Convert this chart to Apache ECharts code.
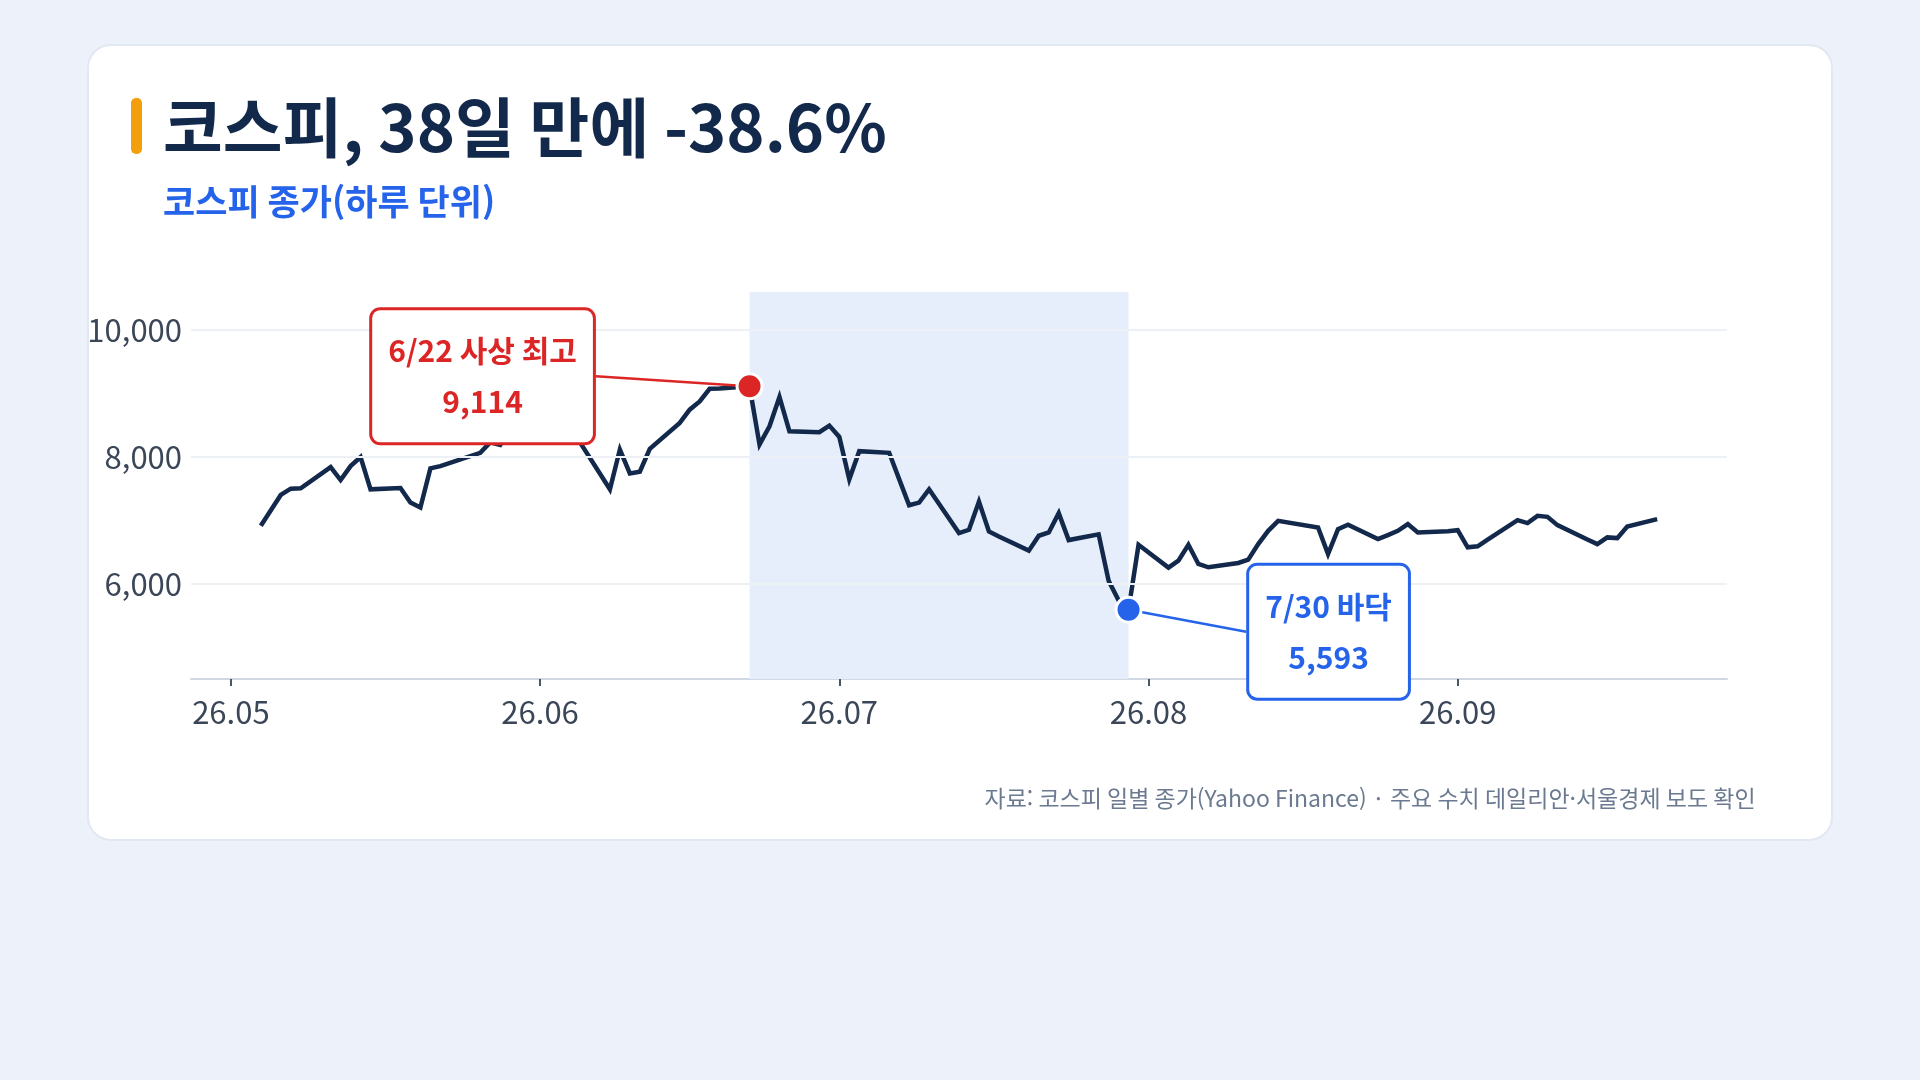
<!DOCTYPE html>
<html lang="ko">
<head>
    <meta charset="UTF-8">
    <title>코스피, 38일 만에 -38.6%</title>
    <script src="https://cdn.jsdelivr.net/npm/echarts@6/dist/echarts.min.js"></script>
    <style>
        html, body {
            margin: 0;
            padding: 0;
            width: 1920px;
            height: 1080px;
            background: #edf1f9;
            overflow: hidden;
        }

        #card {
            position: absolute;
            left: 87px;
            top: 44px;
            width: 1742px;
            height: 793px;
            background: #fff;
            border: 2px solid #e2e8f1;
            border-radius: 24px;
        }

        #main {
            position: absolute;
            left: 0;
            top: 0;
            width: 1920px;
            height: 1080px;
        }
    </style>
</head>
<body>
<div id="card"></div>
<div id="main"></div>
<script>
    // 코스피 일별 종가
    const tradeDates = [
        '2026-05-04', '2026-05-06', '2026-05-07', '2026-05-08', '2026-05-11', '2026-05-12', '2026-05-13',
        '2026-05-14', '2026-05-15', '2026-05-18', '2026-05-19', '2026-05-20', '2026-05-21', '2026-05-22',
        '2026-05-26', '2026-05-27', '2026-05-28', '2026-05-29', '2026-06-01', '2026-06-02', '2026-06-04',
        '2026-06-05', '2026-06-08', '2026-06-09', '2026-06-10', '2026-06-11', '2026-06-12', '2026-06-15',
        '2026-06-16', '2026-06-17', '2026-06-18', '2026-06-19', '2026-06-22', '2026-06-23', '2026-06-24',
        '2026-06-25', '2026-06-26', '2026-06-29', '2026-06-30', '2026-07-01', '2026-07-02', '2026-07-03',
        '2026-07-06', '2026-07-07', '2026-07-08', '2026-07-09', '2026-07-10', '2026-07-13', '2026-07-14',
        '2026-07-15', '2026-07-16', '2026-07-17', '2026-07-20', '2026-07-21', '2026-07-22', '2026-07-23',
        '2026-07-24', '2026-07-27', '2026-07-28', '2026-07-29', '2026-07-30', '2026-07-31', '2026-08-03',
        '2026-08-04', '2026-08-05', '2026-08-06', '2026-08-07', '2026-08-10', '2026-08-11', '2026-08-12',
        '2026-08-13', '2026-08-14', '2026-08-18', '2026-08-19', '2026-08-20', '2026-08-21', '2026-08-24',
        '2026-08-25', '2026-08-26', '2026-08-27', '2026-08-28', '2026-08-31', '2026-09-01', '2026-09-02',
        '2026-09-03', '2026-09-04', '2026-09-07', '2026-09-08', '2026-09-09', '2026-09-10', '2026-09-11',
        '2026-09-14', '2026-09-15', '2026-09-16', '2026-09-17', '2026-09-18', '2026-09-21'
    ];
    const closePrices = [
        6915, 7401, 7500, 7505, 7840, 7636, 7856,
        7997, 7490, 7510, 7281, 7203, 7819, 7856,
        8065, 8230, 8190, 8420, 8650, 8580, 8390,
        8230, 7490, 8117, 7741, 7767, 8128, 8536,
        8745, 8875, 9074, 9080, 9114, 8196, 8484,
        8944, 8405, 8390, 8494, 8316, 7647, 8091,
        8065, 7650, 7239, 7281, 7490, 6800, 6852,
        7297, 6826, 6747, 6523, 6758, 6810, 7114,
        6690, 6780, 6050, 5740, 5593, 6615, 6255,
        6366, 6617, 6314, 6261, 6329, 6382, 6627,
        6836, 6993, 6889, 6470, 6863, 6931, 6706,
        6769, 6836, 6941, 6810, 6830, 6845, 6575,
        6591, 6695, 7004, 6957, 7072, 7056, 6925,
        6700, 6627, 6732, 6721, 6904, 7019
    ];

    // 축 범위와 눈금
    const xRange = ['2026-04-27', '2026-09-28'];
    const monthTicks = ['2026-05-01', '2026-06-01', '2026-07-01', '2026-08-01', '2026-09-01'];
    const yTicks = [6000, 8000, 10000];

    // 고점/저점 표시
    const markDates = ['2026-06-22', '2026-07-30'];
    const markValues = [9114, 5593];
    const markTitles = ['6/22 사상 최고', '7/30 바닥'];
    const markColors = ['#dc2626', '#2563eb'];

    // 하락 구간 (음영)
    const dropRange = ['2026-06-22', '2026-07-30'];

    const FONT = '"Noto Sans CJK KR", "Noto Sans", sans-serif';
    const NAVY = '#13294b';

    // 'YYYY-MM-DD' -> 로컬 자정 타임스탬프
    function toTime(s) {
        const [y, m, d] = s.split('-').map(Number);
        return new Date(y, m - 1, d).getTime();
    }

    const lineData = tradeDates.map((d, i) => [toTime(d), closePrices[i]]);

    const markData = markDates.map((d, i) => ({
        value: [toTime(d), markValues[i]],
        itemStyle: {color: markColors[i]},
        label: {
            color: markColors[i],
            borderColor: markColors[i],
            formatter: markTitles[i] + '\n' + markValues[i].toLocaleString('en-US')
        },
        labelLine: {lineStyle: {color: markColors[i]}}
    }));

    const chart = echarts.init(document.getElementById('main'), null, {renderer: 'canvas'});

    const option = {
        backgroundColor: 'transparent',
        animation: false,
        textStyle: {fontFamily: FONT},
        title: [
            {
                text: '코스피, 38일 만에 -38.6%',
                left: 163,
                top: 89,
                padding: 0,
                textStyle: {fontSize: 65, fontWeight: 'bold', color: NAVY, lineHeight: 76, fontFamily: FONT}
            },
            {
                text: '코스피 종가(하루 단위)',
                left: 163,
                top: 182,
                padding: 0,
                textStyle: {fontSize: 35, fontWeight: 'bold', color: '#2563eb', lineHeight: 40, fontFamily: FONT}
            },
            {
                text: '자료: 코스피 일별 종가(Yahoo Finance) · 주요 수치 데일리안·서울경제 보도 확인',
                right: 158,
                top: 783,
                padding: 0,
                textStyle: {fontSize: 23, fontWeight: 'normal', color: '#6b7a90', lineHeight: 30, fontFamily: FONT}
            }
        ],
        graphic: [
            {
                type: 'rect',
                shape: {x: 131, y: 98, width: 11, height: 56, r: 5},
                style: {fill: '#f59e0b'}
            }
        ],
        grid: {left: 191, right: 193, top: 292, bottom: 401},
        xAxis: {
            type: 'value',
            min: toTime(xRange[0]),
            max: toTime(xRange[1]),
            axisLine: {lineStyle: {color: '#cfd8e3', width: 2}},
            axisTick: {
                show: true,
                customValues: monthTicks.map(toTime),
                length: 7,
                lineStyle: {color: '#4a5568', width: 2}
            },
            axisLabel: {
                customValues: monthTicks.map(toTime),
                margin: 18,
                fontSize: 31,
                color: '#3b4658',
                fontFamily: FONT,
                formatter: v => {
                    const d = new Date(v);
                    return String(d.getFullYear() % 100) + '.' + String(d.getMonth() + 1).padStart(2, '0');
                }
            },
            splitLine: {show: false}
        },
        yAxis: {
            type: 'value',
            min: 4500,
            max: 10600,
            axisLine: {show: false},
            axisTick: {show: false},
            axisLabel: {
                customValues: yTicks,
                margin: 9,
                fontSize: 31,
                color: '#3b4658',
                fontFamily: FONT,
                formatter: v => v.toLocaleString('en-US')
            },
            splitLine: {show: false}
        },
        series: [
            {
                // 하락 구간 음영
                type: 'line',
                z: 1,
                silent: true,
                symbol: 'none',
                data: lineData,
                lineStyle: {opacity: 0},
                markArea: {
                    silent: true,
                    itemStyle: {color: '#e6eefb'},
                    data: [[{xAxis: toTime(dropRange[0])}, {xAxis: toTime(dropRange[1])}]]
                }
            },
            {
                // 가로 격자선
                type: 'line',
                z: 2,
                silent: true,
                symbol: 'none',
                data: lineData,
                lineStyle: {opacity: 0},
                markLine: {
                    silent: true,
                    symbol: 'none',
                    label: {show: false},
                    lineStyle: {color: '#edf1f6', width: 2, type: 'solid'},
                    data: yTicks.map(v => ({yAxis: v}))
                }
            },
            {
                name: '코스피',
                type: 'line',
                z: 3,
                data: lineData,
                symbol: 'none',
                lineStyle: {color: NAVY, width: 4.5, join: 'miter'}
            },
            {
                type: 'scatter',
                z: 5,
                symbol: 'circle',
                symbolSize: 25,
                itemStyle: {borderColor: '#fff', borderWidth: 3, opacity: 1},
                data: markData,
                label: {
                    show: true,
                    position: 'inside',
                    fontSize: 30,
                    fontWeight: 'bold',
                    fontFamily: FONT,
                    lineHeight: 51,
                    align: 'center',
                    backgroundColor: '#fff',
                    borderWidth: 3,
                    borderRadius: 8,
                    padding: [15, 16]
                },
                labelLine: {show: true, lineStyle: {width: 2.5}},
                labelLayout: params => params.dataIndex === 0
                    ? {dx: -267, dy: -10}
                    : {dx: 200, dy: 22}
            }
        ]
    };

    chart.setOption(option);
</script>
</body>
</html>
